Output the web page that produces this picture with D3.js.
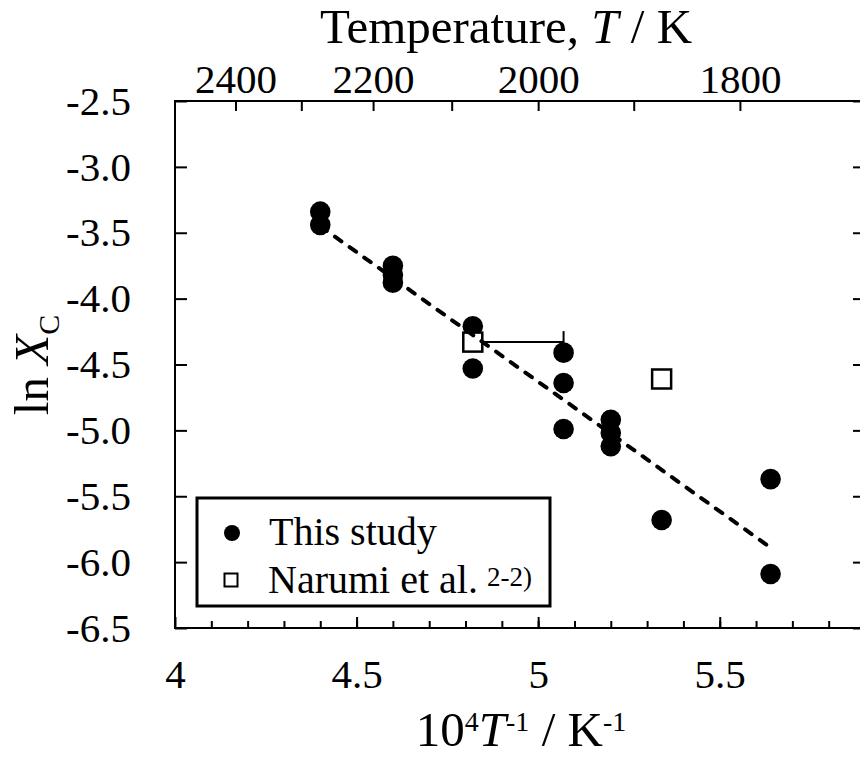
<!DOCTYPE html>
<html>
<head>
<meta charset="utf-8">
<script src="https://cdn.jsdelivr.net/npm/d3@7"></script>
<style>
    body { margin: 0; background: #fff; }
    text { font-family: "Liberation Serif", "Times New Roman", serif; fill: #000; }
</style>
</head>
<body>
<div id="d3container"></div>
<script>
// this study (10^4/T, ln Xc)
var studyX = [4.40, 4.40, 4.60, 4.60, 4.60, 4.82, 4.82, 5.07, 5.07, 5.07, 5.20, 5.20, 5.20, 5.34, 5.64, 5.64];
var studyY = [-3.34, -3.44, -3.75, -3.82, -3.88, -4.21, -4.53, -4.41, -4.64, -4.99, -4.92, -5.02, -5.12, -5.68, -5.37, -6.09];

// Narumi et al.
var narumiX = [4.82, 5.34];
var narumiY = [-4.33, -4.61];
var narumiXErrHigh = [5.07, null];

// fitted line
var fitX = [4.40, 5.64];
var fitY = [-3.45, -5.89];

var xMajor = [4, 4.5, 5, 5.5];
var yTicks = [-2.5, -3.0, -3.5, -4.0, -4.5, -5.0, -5.5, -6.0, -6.5];
var tempTicks = [2400, 2300, 2200, 2100, 2000, 1900, 1800];
var tempLabels = [2400, 2200, 2000, 1800];

var width = 860;
var height = 760;
var font = '"Liberation Serif", "Times New Roman", serif';

var x = d3.scaleLinear().domain([4, 5.9]).range([175, 865]);
var y = d3.scaleLinear().domain([-6.5, -2.5]).range([628, 101]);

var svg = d3.select('#d3container')
    .append('svg')
    .attr('width', width)
    .attr('height', height);

function styleAxis(g, size) {
    g.attr('font-family', font).attr('font-size', size);
    g.select('.domain').remove();
    g.selectAll('.tick line').attr('stroke-width', 2);
    g.selectAll('.tick text').attr('fill', '#000');
}

// bottom minor ticks
var minor = d3.range(41, 59).map(function (d) { return d / 10; });
svg.append('g')
    .attr('transform', 'translate(0,628)')
    .call(d3.axisBottom(x).tickValues(minor).tickSizeInner(-7).tickSizeOuter(0).tickFormat(''))
    .call(styleAxis, 41);

// bottom major ticks + labels
svg.append('g')
    .attr('transform', 'translate(0,628)')
    .call(d3.axisBottom(x).tickValues(xMajor).tickSizeInner(-11).tickSizeOuter(0).tickPadding(31)
        .tickFormat(function (d) { return String(d); }))
    .call(styleAxis, 41);

// left axis
svg.append('g')
    .attr('transform', 'translate(175,0)')
    .call(d3.axisLeft(y).tickValues(yTicks).tickSizeInner(-12).tickSizeOuter(0).tickPadding(44)
        .tickFormat(function (d) { return d.toFixed(1); }))
    .call(styleAxis, 41);

// right axis (ticks only)
svg.append('g')
    .attr('transform', 'translate(865,0)')
    .call(d3.axisRight(y).tickValues(yTicks).tickSizeInner(-12).tickSizeOuter(0).tickFormat(''))
    .call(styleAxis, 41);

// top axis: temperature
svg.append('g')
    .attr('transform', 'translate(0,101)')
    .call(d3.axisTop(x).tickValues(tempTicks.map(function (t) { return 1e4 / t; }))
        .tickSizeInner(-10).tickSizeOuter(0).tickFormat(''))
    .call(styleAxis, 41);
svg.append('g')
    .attr('transform', 'translate(0,101)')
    .call(d3.axisTop(x).tickValues(tempLabels.map(function (t) { return 1e4 / t; }))
        .tickSize(0).tickPadding(8).tickFormat(function (d) { return Math.round(1e4 / d); }))
    .call(styleAxis, 41);

// frame
svg.append('rect')
    .attr('x', x(4)).attr('y', y(-2.5))
    .attr('width', x(5.9) - x(4)).attr('height', y(-6.5) - y(-2.5))
    .attr('fill', 'none').attr('stroke', '#000').attr('stroke-width', 2);

// error bar
narumiX.forEach(function (d, i) {
    if (narumiXErrHigh[i] == null) return;
    var yy = y(narumiY[i]);
    svg.append('line')
        .attr('x1', x(d)).attr('x2', x(narumiXErrHigh[i]))
        .attr('y1', yy).attr('y2', yy)
        .attr('stroke', '#000').attr('stroke-width', 2);
    svg.append('line')
        .attr('x1', x(narumiXErrHigh[i])).attr('x2', x(narumiXErrHigh[i]))
        .attr('y1', yy - 11).attr('y2', yy + 11)
        .attr('stroke', '#000').attr('stroke-width', 2);
});

// this study points
svg.append('g').selectAll('circle')
    .data(studyX)
    .enter().append('circle')
    .attr('cx', function (d) { return x(d); })
    .attr('cy', function (d, i) { return y(studyY[i]); })
    .attr('r', 10.3)
    .attr('fill', '#000');

// Narumi points
var sq = 19;
svg.append('g').selectAll('rect')
    .data(narumiX)
    .enter().append('rect')
    .attr('x', function (d) { return x(d) - sq / 2; })
    .attr('y', function (d, i) { return y(narumiY[i]) - sq / 2; })
    .attr('width', sq).attr('height', sq)
    .attr('fill', '#fff').attr('stroke', '#000').attr('stroke-width', 2.5);

// fitted line
var line = d3.line()
    .x(function (d) { return x(d); })
    .y(function (d, i) { return y(fitY[i]); });
svg.append('path')
    .attr('d', line(fitX))
    .attr('fill', 'none').attr('stroke', '#000')
    .attr('stroke-width', 4).attr('stroke-dasharray', '8,10').attr('stroke-linecap', 'round');

// legend
var legend = svg.append('g');
legend.append('rect')
    .attr('x', 197).attr('y', 498).attr('width', 353).attr('height', 108)
    .attr('fill', '#fff').attr('stroke', '#000').attr('stroke-width', 3);
legend.append('circle').attr('cx', 232).attr('cy', 533).attr('r', 8).attr('fill', '#000');
legend.append('text').attr('x', 269).attr('y', 545).attr('font-size', 40).text('This study');
legend.append('rect').attr('x', 224.5).attr('y', 573.5).attr('width', 13).attr('height', 13)
    .attr('fill', '#fff').attr('stroke', '#000').attr('stroke-width', 2);
var nt = legend.append('text').attr('x', 268).attr('y', 593).attr('font-size', 40);
nt.append('tspan').text('Narumi et al.');
nt.append('tspan').attr('dx', 9).attr('dy', -7).attr('font-size', 27).text('2-2)');

// titles
var topTitle = svg.append('text').attr('x', 506).attr('y', 43).attr('text-anchor', 'middle').attr('font-size', 49);
topTitle.append('tspan').text('Temperature, ');
topTitle.append('tspan').attr('font-style', 'italic').text('T');
topTitle.append('tspan').text(' / K');

var bottomTitle = svg.append('text').attr('x', 521).attr('y', 746).attr('text-anchor', 'middle').attr('font-size', 49);
bottomTitle.append('tspan').text('10');
bottomTitle.append('tspan').attr('dy', -15).attr('font-size', 28).text('4');
bottomTitle.append('tspan').attr('dy', 15).attr('font-style', 'italic').text('T');
bottomTitle.append('tspan').attr('dy', -15).attr('font-size', 28).text('-1');
bottomTitle.append('tspan').attr('dy', 15).text(' / K');
bottomTitle.append('tspan').attr('dy', -15).attr('font-size', 28).text('-1');

var yTitle = svg.append('text')
    .attr('transform', 'translate(48,365) rotate(-90)')
    .attr('text-anchor', 'middle').attr('font-size', 49);
yTitle.append('tspan').text('ln ');
yTitle.append('tspan').attr('font-style', 'italic').text('X');
yTitle.append('tspan').attr('dy', 11).attr('font-size', 30).text('C');
</script>
</body>
</html>
